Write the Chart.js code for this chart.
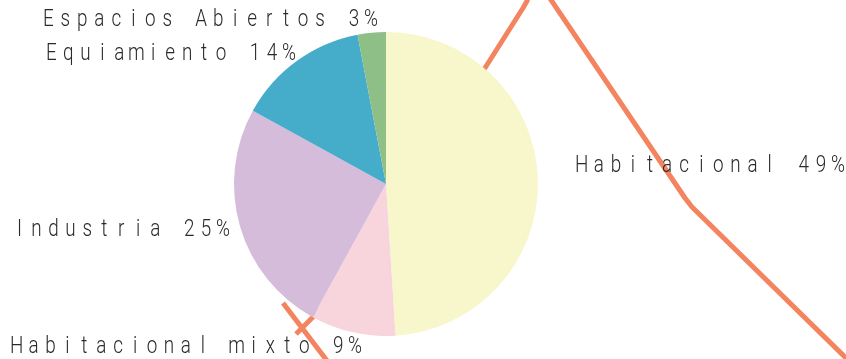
<!DOCTYPE html>
<html lang="es">
<head>
<meta charset="UTF-8">
<title>Uso de suelo</title>
<script src="https://cdn.jsdelivr.net/npm/chart.js"></script>
<style>
  html, body { margin: 0; padding: 0; background: #fff; }
  #wrap { position: relative; width: 846px; height: 359px; }
  #wrap canvas { position: absolute; left: 0; top: 0; }
</style>
</head>
<body>
<div id="wrap">
  <canvas id="fondo" width="846" height="359"></canvas>
  <canvas id="pastel" width="846" height="359"></canvas>
</div>
<script>
// Usos de suelo (porcentaje)
const categorias = ['Habitacional', 'Habitacional mixto', 'Industria', 'Equiamiento', 'Espacios Abiertos'];
const porcentajes = [49, 9, 25, 14, 3];
const colores = ['#f8f6cb', '#f8d4dd', '#d5bcdb', '#45acc9', '#8dbf87'];

// Trazos de las vialidades (coordenadas del plano)
const trazoNorte = [{x: 462, y: 103}, {x: 485, y: 68}, {x: 523, y: 8}, {x: 527, y: 1}, {x: 529, y: -6}];
const trazoEste = [{x: 547, y: -6}, {x: 685, y: 198}, {x: 692, y: 207}, {x: 850, y: 362}];
const trazoSur = [{x: 283, y: 303}, {x: 328, y: 362}];
const trazoCruce = [{x: 336, y: 294}, {x: 313, y: 317}, {x: 296, y: 334}];

const naranja = '#f4845f';

function trazo(data) {
  return { data, showLine: true, borderColor: naranja, borderWidth: 5,
           pointRadius: 0, fill: false, tension: 0, borderCapStyle: 'butt', borderJoinStyle: 'round' };
}

new Chart(document.getElementById('fondo'), {
  type: 'scatter',
  data: { datasets: [trazo(trazoNorte), trazo(trazoEste), trazo(trazoSur), trazo(trazoCruce)] },
  options: {
    responsive: false, animation: false,
    layout: { padding: 0 },
    plugins: { legend: { display: false }, tooltip: { enabled: false } },
    scales: {
      x: { type: 'linear', min: 0, max: 846, display: false },
      y: { type: 'linear', min: 0, max: 359, reverse: true, display: false }
    }
  }
});

// Etiquetas: [izquierda, línea base, derecha]
const posEtiquetas = [
  [575, 172, 845],
  [10, 353, 362],
  [17, 236, 230],
  [46, 60, 296],
  [43, 26, 378]
];

// letra de ancho fijo, espaciada y algo condensada
const etiquetas = {
  id: 'etiquetas',
  afterDraw(chart) {
    const ctx = chart.ctx;
    const sx = 0.82;
    ctx.save();
    ctx.font = '300 23px Roboto';
    ctx.fillStyle = '#2a2a2a';
    ctx.textBaseline = 'alphabetic';
    ctx.textAlign = 'center';
    categorias.forEach((c, i) => {
      const txt = c + ' ' + porcentajes[i] + '%';
      const [x0, yb, x1] = posEtiquetas[i];
      const wIni = ctx.measureText(txt[0]).width * sx;
      const wFin = ctx.measureText(txt[txt.length - 1]).width * sx;
      const c0 = x0 + wIni / 2;
      const paso = (x1 - wFin / 2 - c0) / (txt.length - 1);
      for (let k = 0; k < txt.length; k++) {
        if (txt[k] === ' ') continue;
        ctx.save();
        ctx.translate(c0 + k * paso, yb);
        ctx.scale(sx, 1);
        ctx.fillText(txt[k], 0, 0);
        ctx.restore();
      }
    });
    ctx.restore();
  }
};

new Chart(document.getElementById('pastel'), {
  type: 'pie',
  data: {
    labels: categorias,
    datasets: [{ data: porcentajes, backgroundColor: colores, borderWidth: 0 }]
  },
  options: {
    responsive: false, animation: false,
    layout: { padding: { left: 0, right: 74, top: 32, bottom: 23 } },
    plugins: { legend: { display: false }, tooltip: { enabled: false } }
  },
  plugins: [etiquetas]
});
</script>
</body>
</html>
